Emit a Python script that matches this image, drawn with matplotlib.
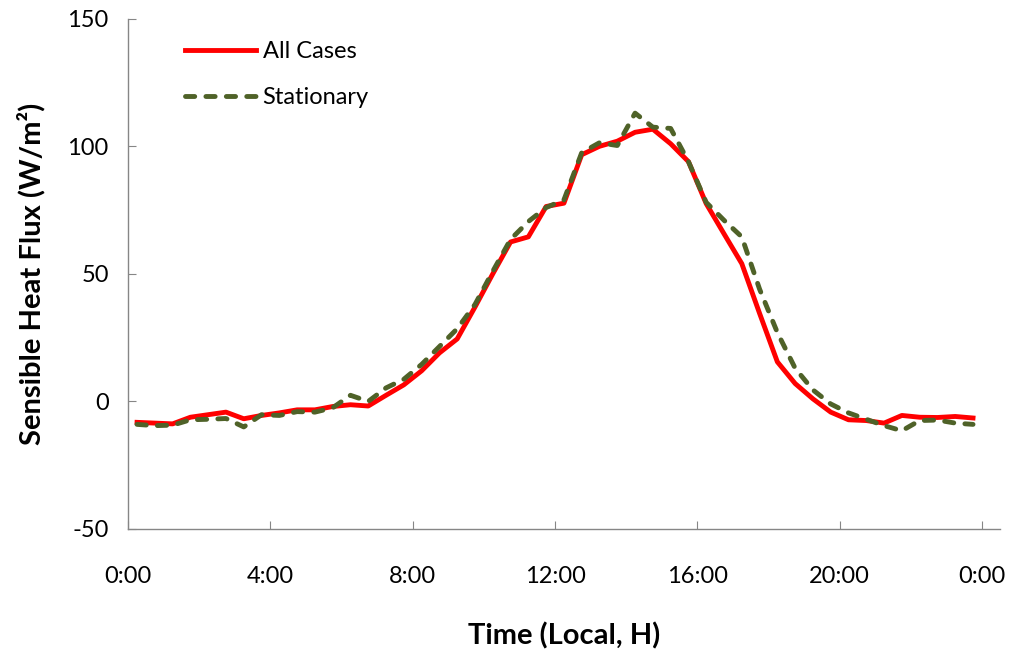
import numpy as np
import matplotlib
matplotlib.use("Agg")
from matplotlib import pyplot as plt

# half-hourly means, centred on the quarter hours
hours = np.arange(0.25, 24.0, 0.5)

all_cases = [-8.2, -8.5, -8.8, -6.2, -5.2, -4.2, -6.8, -5.5, -4.5, -3.3,
             -3.3, -2.0, -1.3, -1.8, 2.4, 6.5, 12.0, 19.0, 24.5, 37.0,
             50.0, 62.5, 64.5, 76.4, 77.7, 96.7, 100.0, 102.0, 105.5, 106.7,
             101.0, 94.0, 77.5, 65.7, 54.0, 34.5, 15.5, 7.0, 1.0, -4.2,
             -7.2, -7.5, -8.5, -5.5, -6.2, -6.3, -5.9, -6.5]

stationary = [-9.0, -9.5, -9.3, -7.2, -7.0, -6.7, -10.0, -5.2, -5.5, -4.0,
              -4.2, -2.5, 2.4, 0.0, 5.3, 8.7, 14.5, 21.5, 28.5, 38.0,
              51.0, 63.5, 70.5, 76.0, 79.0, 97.5, 101.4, 100.3, 113.0, 107.5,
              107.0, 94.0, 78.0, 71.0, 64.5, 44.0, 27.0, 13.0, 4.5, -1.0,
              -4.5, -7.0, -9.5, -11.5, -7.5, -7.3, -8.5, -9.0]

tick_hours = [0, 4, 8, 12, 16, 20, 24]
tick_labels = ["0:00", "4:00", "8:00", "12:00", "16:00", "20:00", "0:00"]
y_ticks = [-50, 0, 50, 100, 150]

plt.rcParams['font.family'] = ['Lato', 'DejaVu Sans']
plt.rcParams['axes.unicode_minus'] = False

fig = plt.figure(figsize=(10.17, 6.55), dpi=100)
ax = fig.add_axes([0.126, 0.1924, 0.857, 0.779])

ax.plot(hours, all_cases, color="#FF0000", lw=3.5, label="All Cases",
        solid_joinstyle="round")
ax.plot(hours, stationary, color="#4F6228", lw=3.5, label="Stationary",
        linestyle=(0, (1.9, 2.3)), dash_capstyle="round")

ax.set_xlim(0, 24.5)
ax.set_ylim(-50, 150)
ax.set_xticks(tick_hours)
ax.set_xticklabels(tick_labels)
ax.set_yticks(y_ticks)

for side in ["top", "right"]:
    ax.spines[side].set_visible(False)
for side in ["left", "bottom"]:
    ax.spines[side].set_color("#868686")
    ax.spines[side].set_linewidth(1.0)

ax.tick_params(axis="both", direction="in", length=6, color="#868686",
               labelsize=17, labelcolor="black")
ax.tick_params(axis="x", pad=27)
ax.tick_params(axis="y", pad=14)

ax.set_xlabel("Time (Local, H)", fontsize=21, fontweight="bold", labelpad=25)
ax.set_ylabel("Sensible Heat Flux (W/m²)", fontsize=21, fontweight="bold",
              labelpad=16)

ax.legend(loc="upper left", bbox_to_anchor=(0.065, 0.956), frameon=False,
          fontsize=17, handlelength=3.0, handletextpad=0.3, labelspacing=1.05,
          borderpad=0, borderaxespad=0)

fig.savefig("out.png", dpi=100)
